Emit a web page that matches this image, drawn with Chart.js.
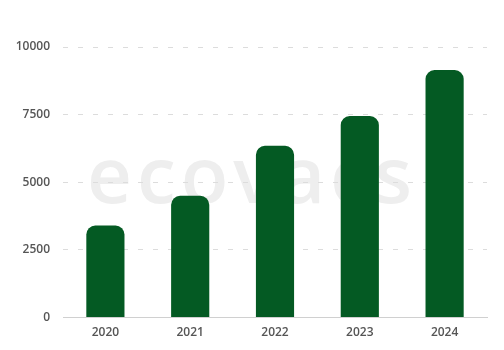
<!DOCTYPE html>
<html>
<head>
<meta charset="utf-8">
<script src="https://cdn.jsdelivr.net/npm/chart.js@4/dist/chart.umd.min.js"></script>
<style>
  html, body { margin: 0; padding: 0; background: #fff; }
  #wrap { width: 504px; height: 350px; }
</style>
</head>
<body>
<div id="wrap"><canvas id="chart" width="504" height="350"></canvas></div>
<script>
var years = ["2020", "2021", "2022", "2023", "2024"];
var sales = [3400, 4500, 6350, 7450, 9150];
var yTicks = [0, 2500, 5000, 7500, 10000];

// faint brand watermark, drawn first so grid and bars sit on top
var watermark = {
    id: 'watermark',
    beforeDraw: function(chart) {
        var ctx = chart.ctx;
        ctx.save();
        ctx.font = '600 78px "Open Sans", sans-serif';
        ctx.letterSpacing = '5px';
        ctx.fillStyle = '#eeeeee';
        ctx.textBaseline = 'alphabetic';
        ctx.textAlign = 'left';
        ctx.fillText('ecovacs', 87, 203);
        ctx.restore();
    }
};

new Chart(document.getElementById('chart'), {
    type: 'bar',
    data: {
        labels: years,
        datasets: [{
            data: sales,
            backgroundColor: '#045a23',
            borderRadius: 9,
            borderSkipped: 'start',
            barPercentage: 0.45,
            categoryPercentage: 1
        }]
    },
    options: {
        responsive: false,
        animation: false,
        layout: { padding: { top: 47, right: 17, bottom: 2, left: 0 } },
        plugins: { legend: { display: false }, tooltip: { enabled: false } },
        scales: {
            x: {
                grid: { display: false, drawTicks: false },
                border: { display: true, color: '#d0d0d0' },
                ticks: { color: '#555', padding: 8, font: { family: 'Open Sans', size: 12, weight: '600' } }
            },
            y: {
                min: 0,
                max: 10000,
                afterBuildTicks: function(axis) {
                    axis.ticks = yTicks.map(function(v) { return { value: v }; });
                },
                afterFit: function(axis) { axis.width = 63; },
                grid: { color: '#dcdcdc', drawTicks: false },
                border: { display: false, dash: [5, 10] },
                ticks: {
                    color: '#555',
                    padding: 13,
                    font: { family: 'Open Sans', size: 12, weight: '600' },
                    callback: function(v) { return String(v); }
                }
            }
        }
    },
    plugins: [watermark]
});
</script>
</body>
</html>
